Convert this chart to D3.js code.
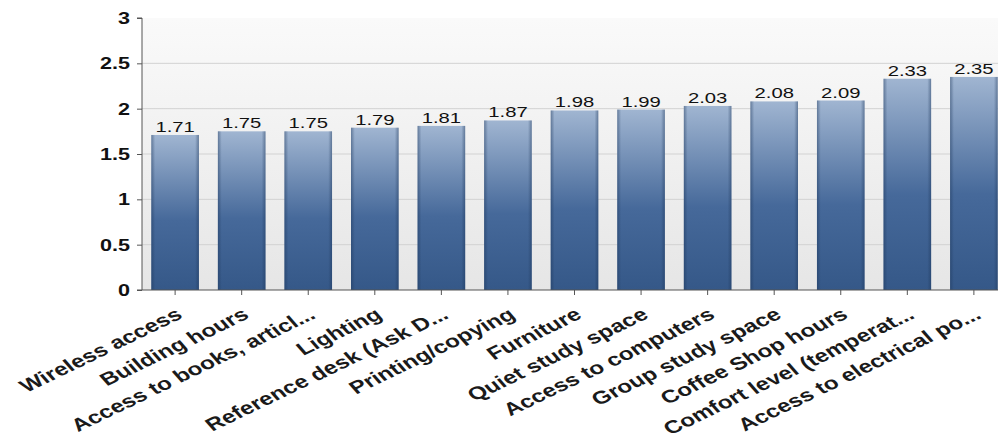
<!DOCTYPE html>
<html>
<head>
<meta charset="utf-8">
<script src="https://cdn.jsdelivr.net/npm/d3@7"></script>
<style>
  body { margin: 0; background: #fff; }
  svg { display: block; }
  .y.axis text { font: bold 16px "Liberation Sans", Arial, sans-serif; fill: #111; }
  .x.axis text { font: bold 18px "Liberation Sans", Arial, sans-serif; fill: #1a1a1a; }
  .axis path, .axis line { stroke: #555; }
  .val { font: 15px "Liberation Sans", Arial, sans-serif; fill: #111; }
</style>
</head>
<body>
<script>
const categories = ["Wireless access", "Building hours", "Access to books, articl...", "Lighting",
  "Reference desk (Ask D...", "Printing/copying", "Furniture", "Quiet study space",
  "Access to computers", "Group study space", "Coffee Shop hours",
  "Comfort level (temperat...", "Access to electrical po..."];
const values = [1.71, 1.75, 1.75, 1.79, 1.81, 1.87, 1.98, 1.99, 2.03, 2.08, 2.09, 2.33, 2.35];
const yTicks = [0, 0.5, 1, 1.5, 2, 2.5, 3];

const width = 998, height = 441;
const plotLeft = 142, plotRight = 1007, plotTop = 18, plotBottom = 290;
const stretch = 1.35; // text in the picture is wider than it is tall

const svg = d3.select("body").append("svg")
    .attr("width", width)
    .attr("height", height);

const defs = svg.append("defs");

// plot background: white at top, light gray at the bottom
var bg = defs.append("linearGradient").attr("id", "bg")
    .attr("x1", "0%").attr("y1", "0%").attr("x2", "0%").attr("y2", "100%");
bg.append("stop").attr("offset", "0%").attr("stop-color", "#fafafa");
bg.append("stop").attr("offset", "100%").attr("stop-color", "#e6e6e6");

// bar fill
var barGrad = defs.append("linearGradient").attr("id", "bar")
    .attr("x1", "0%").attr("y1", "0%").attr("x2", "0%").attr("y2", "100%");
barGrad.append("stop").attr("offset", "0%").attr("stop-color", "#a0b5d1");
barGrad.append("stop").attr("offset", "55%").attr("stop-color", "#46699a");
barGrad.append("stop").attr("offset", "100%").attr("stop-color", "#355888");

// darker edges left/right for the bevel look
var edge = defs.append("linearGradient").attr("id", "edge")
    .attr("x1", "0%").attr("y1", "0%").attr("x2", "100%").attr("y2", "0%");
edge.append("stop").attr("offset", "0%").attr("stop-color", "#1c3558").attr("stop-opacity", 0.45);
edge.append("stop").attr("offset", "8%").attr("stop-color", "#1c3558").attr("stop-opacity", 0);
edge.append("stop").attr("offset", "92%").attr("stop-color", "#1c3558").attr("stop-opacity", 0);
edge.append("stop").attr("offset", "100%").attr("stop-color", "#1c3558").attr("stop-opacity", 0.45);

var xScale = d3.scaleBand().domain(categories).range([plotLeft, plotRight]).paddingInner(0.285).paddingOuter(0.14);
var yScale = d3.scaleLinear().domain([0, 3]).range([plotBottom, plotTop]);

svg.append("rect")
    .attr("x", plotLeft).attr("y", plotTop)
    .attr("width", plotRight - plotLeft).attr("height", plotBottom - plotTop)
    .attr("fill", "url(#bg)");

// gridlines
svg.append("g").selectAll("line").data(yTicks.filter(d => d > 0 && d < 3))
  .enter().append("line")
    .attr("x1", plotLeft).attr("x2", plotRight)
    .attr("y1", d => yScale(d)).attr("y2", d => yScale(d))
    .attr("stroke", "#d2d2d2");

var bars = svg.append("g").selectAll("g").data(values).enter().append("g");

bars.append("rect")
    .attr("x", (d, i) => xScale(categories[i]))
    .attr("y", d => yScale(d))
    .attr("width", xScale.bandwidth())
    .attr("height", d => plotBottom - yScale(d))
    .attr("fill", "url(#bar)");

bars.append("rect")
    .attr("x", (d, i) => xScale(categories[i]))
    .attr("y", d => yScale(d))
    .attr("width", xScale.bandwidth())
    .attr("height", d => plotBottom - yScale(d))
    .attr("fill", "url(#edge)");

bars.append("text")
    .attr("class", "val")
    .attr("text-anchor", "middle")
    .attr("transform", (d, i) => "translate(" + (xScale(categories[i]) + xScale.bandwidth() / 2) + "," +
        (yScale(d) - 3) + ") scale(" + stretch + ",1)")
    .text(d => d.toFixed(2));

var yAxis = d3.axisLeft(yScale).tickValues(yTicks).tickSize(5).tickPadding(4)
    .tickFormat(d => d3.format("")(d));
svg.append("g")
    .attr("class", "y axis")
    .attr("transform", "translate(" + plotLeft + ",0)")
    .call(yAxis)
    .call(g => g.select(".domain").attr("d", "M-5," + plotTop + "H0V" + plotBottom))
    .selectAll("text")
    .attr("x", 0).attr("dy", null)
    .attr("y", "0.35em")
    .attr("transform", "translate(-12,0) scale(" + stretch + ",1)");

var xAxis = d3.axisBottom(xScale).tickSize(5).tickSizeOuter(0).tickPadding(3);
svg.append("g")
    .attr("class", "x axis")
    .attr("transform", "translate(0," + plotBottom + ")")
    .call(xAxis)
    .call(g => g.select(".domain").attr("d", "M" + (plotLeft - 5) + ",0H" + plotRight))
    .selectAll("text")
    .attr("text-anchor", "end")
    .attr("x", 0).attr("y", 0)
    .attr("dx", "-2")
    .attr("dy", "0.75em")
    .attr("transform", "translate(1,15) scale(" + stretch + ",1) rotate(-33)");
</script>
</body>
</html>
